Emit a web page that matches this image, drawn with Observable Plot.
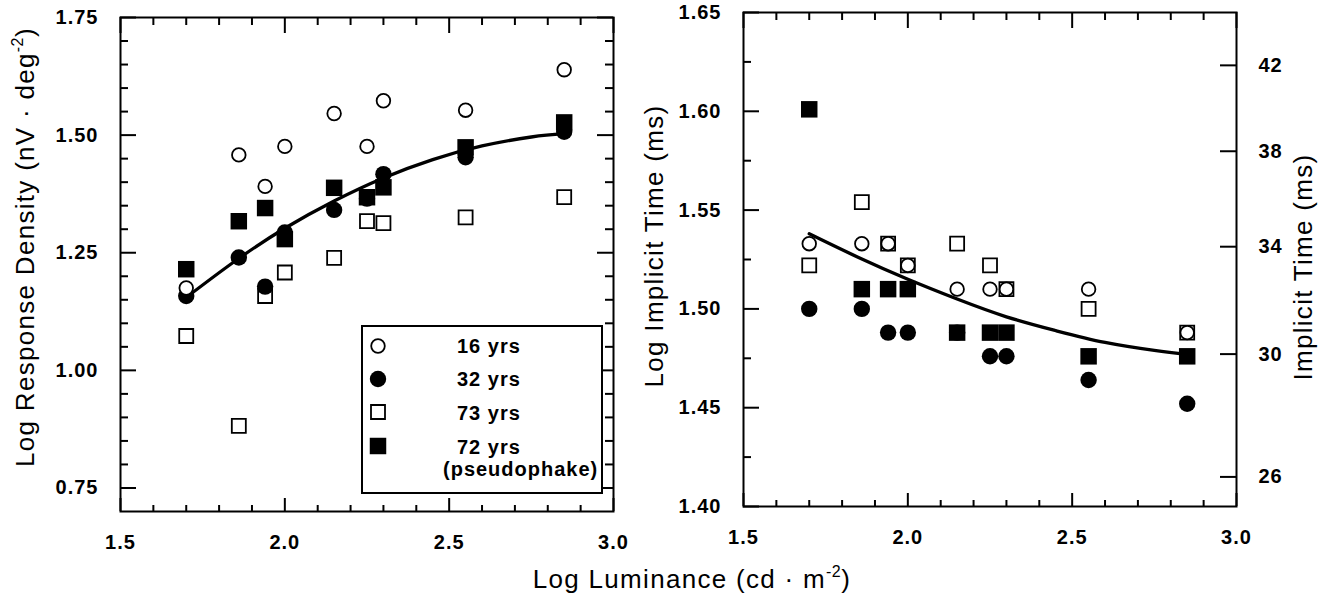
<!DOCTYPE html>
<html>
<head>
<meta charset="utf-8">
<script src="https://cdn.jsdelivr.net/npm/d3@7"></script>
<script src="https://cdn.jsdelivr.net/npm/@observablehq/plot@0.6"></script>
<style>
  html, body { margin: 0; padding: 0; background: #fff; }
  #figure { position: relative; width: 1338px; height: 604px; overflow: hidden; background: #fff;
            font-family: "Liberation Sans", Arial, Helvetica, sans-serif; color: #000; }
  #figure > svg { position: absolute; top: 0; }
  #figure svg text { letter-spacing: 1px; }
  .title { position: absolute; font-size: 26px; line-height: 30px; letter-spacing: 1.3px; white-space: nowrap; }
  .title.horiz { transform: translateX(-50%); }
  .title.rot { transform: translate(-50%, -50%) rotate(-90deg); }
  .title sup { font-size: 16px; vertical-align: 0; position: relative; top: -11px; line-height: 0; letter-spacing: 0.5px; }
</style>
</head>
<body>
<div id="figure"></div>
<script>
// Luminance levels tested (log cd·m⁻²), shared by both panels
const luminance = [1.70, 1.86, 1.94, 2.00, 2.15, 2.25, 2.30, 2.55, 2.85];
const groups = ["16 yrs", "32 yrs", "73 yrs", "72 yrs"];

// Log response density (nV·deg⁻²)
const density16 = [1.175, 1.458, 1.391, 1.476, 1.546, 1.476, 1.573, 1.553, 1.639];
const density32 = [1.158, 1.240, 1.178, 1.293, 1.341, 1.365, 1.417, 1.453, 1.507];
const density73 = [1.073, 0.882, 1.158, 1.208, 1.239, 1.317, 1.313, 1.325, 1.368];
const density72 = [1.215, 1.317, 1.345, 1.279, 1.388, 1.368, 1.389, 1.474, 1.527];

// Log implicit time (ms)
const implicit16 = [1.533, 1.533, 1.533, 1.522, 1.510, 1.510, 1.510, 1.510, 1.488];
const implicit32 = [1.500, 1.500, 1.488, 1.488, 1.488, 1.476, 1.476, 1.464, 1.452];
const implicit73 = [1.522, 1.554, 1.533, 1.522, 1.533, 1.522, 1.510, 1.500, 1.488];
const implicit72 = [1.601, 1.510, 1.510, 1.510, 1.488, 1.488, 1.488, 1.476, 1.476];

// Trend curves through the pooled data
const fitLuminance = [1.70, 1.85, 2.00, 2.15, 2.30, 2.45, 2.60, 2.75, 2.85];
const densityFit  = [1.155, 1.233, 1.302, 1.360, 1.409, 1.448, 1.477, 1.496, 1.503];
const implicitFit = [1.538, 1.526, 1.515, 1.505, 1.496, 1.489, 1.483, 1.479, 1.477];

// Axis ticks
const luminanceMajor = [1.5, 2.0, 2.5, 3.0];
const luminanceMinor = [1.6, 1.7, 1.8, 1.9, 2.1, 2.2, 2.3, 2.4, 2.6, 2.7, 2.8, 2.9];
const densityMajor = [0.75, 1.00, 1.25, 1.50, 1.75];
const densityMinor = [0.80, 0.85, 0.90, 0.95, 1.05, 1.10, 1.15, 1.20, 1.30, 1.35, 1.40, 1.45, 1.55, 1.60, 1.65, 1.70];
const implicitMajor = [1.40, 1.45, 1.50, 1.55, 1.60, 1.65];
const implicitMinor = [1.425, 1.475, 1.525, 1.575, 1.625];
const msTicks = [26, 30, 34, 38, 42];

// Marker look for each group (index matches `groups`)
const groupStyle = [
  {symbol: "circle", filled: false, r: 6.8},
  {symbol: "circle", filled: true,  r: 8.2},
  {symbol: "square", filled: false, r: 7.9},
  {symbol: "square", filled: true,  r: 9.3}
];
// open squares first, open circles last
const drawOrder = [2, 3, 1, 0];

const H = 604;
const FONT = "Liberation Sans, Arial, Helvetica, sans-serif";

function dots(values, g) {
  const s = groupStyle[g];
  const rows = luminance.map((x, i) => ({lum: x, val: values[i]}));
  return Plot.dot(rows, {
    x: "lum", y: "val", symbol: s.symbol, r: s.r,
    fill: s.filled ? "black" : "white",
    stroke: "black", strokeWidth: s.filled ? 0 : 1.8
  });
}

function panel({series, fit, yDomain, yMajor, yMinor, width, marginLeft, marginRight, marginTop, marginBottom, rightTicks, extra = []}) {
  const fw = width - marginLeft - marginRight;
  const fh = H - marginTop - marginBottom;
  const fitRows = fitLuminance.map((x, i) => ({lum: x, val: fit[i]}));
  const marks = [
    // inward ticks on all four sides
    Plot.tickX(luminanceMinor, {x: d => d, insetTop: fh - 6, strokeWidth: 2}),
    Plot.tickX(luminanceMajor, {x: d => d, insetTop: fh - 13, strokeWidth: 2}),
    Plot.tickX(luminanceMinor, {x: d => d, insetBottom: fh - 8, strokeWidth: 2}),
    Plot.tickX(luminanceMajor, {x: d => d, insetBottom: fh - 16, strokeWidth: 2}),
    Plot.tickY(yMinor, {y: d => d, insetRight: fw - 8, strokeWidth: 2}),
    Plot.tickY(yMajor, {y: d => d, insetRight: fw - 16, strokeWidth: 2})
  ];
  if (rightTicks) {
    marks.push(
      Plot.tickY(yMinor, {y: d => d, insetLeft: fw - 8, strokeWidth: 2}),
      Plot.tickY(yMajor, {y: d => d, insetLeft: fw - 16, strokeWidth: 2})
    );
  }
  marks.push(
    Plot.axisX(luminanceMajor, {anchor: "bottom", tickSize: 0, tickPadding: 23, tickFormat: d3.format(".1f"),
      fontSize: 20, fontWeight: "bold", label: null}),
    Plot.axisY(yMajor, {anchor: "left", tickSize: 0, tickPadding: 22, tickFormat: d3.format(".2f"),
      fontSize: 20, fontWeight: "bold", label: null}),
    ...extra,
    Plot.line(fitRows, {x: "lum", y: "val", curve: "natural", stroke: "black", strokeWidth: 3.3}),
    ...drawOrder.map(g => dots(series[g], g)),
    Plot.frame({stroke: "black", strokeWidth: 2})
  );
  return Plot.plot({
    width, height: H, marginLeft, marginRight, marginTop, marginBottom,
    x: {domain: [1.5, 3.0], label: null},
    y: {domain: yDomain, label: null},
    style: {background: "transparent", fontFamily: FONT, overflow: "visible", color: "black"},
    marks
  });
}

const fig = document.getElementById("figure");

// Left: response density
const left = panel({
  series: [density16, density32, density73, density72],
  fit: densityFit,
  yDomain: [0.70, 1.75], yMajor: densityMajor, yMinor: densityMinor,
  width: 640, marginLeft: 120, marginRight: 27, marginTop: 17, marginBottom: 93,
  rightTicks: true
});
left.style.left = "0px";
fig.appendChild(left);

// Right: implicit time, with a secondary scale in ms on the right edge
const rightFw = 698 - 103 - 102;
const right = panel({
  series: [implicit16, implicit32, implicit73, implicit72],
  fit: implicitFit,
  yDomain: [1.40, 1.65], yMajor: implicitMajor, yMinor: implicitMinor,
  width: 698, marginLeft: 103, marginRight: 102, marginTop: 12, marginBottom: 98,
  rightTicks: false,
  extra: [
    Plot.tickY(msTicks, {y: d => Math.log10(d), insetLeft: rightFw - 16, strokeWidth: 2}),
    Plot.axisY(msTicks.map(d => Math.log10(d)), {anchor: "right", tickSize: 0, tickPadding: 22,
      tickFormat: d => String(Math.round(Math.pow(10, d))), fontSize: 20, fontWeight: "bold", label: null})
  ]
});
right.style.left = "640px";
fig.appendChild(right);

// Axis titles
function title(html, cls, x, y) {
  const el = document.createElement("div");
  el.className = "title " + cls;
  el.innerHTML = html;
  el.style.left = x + "px";
  el.style.top = y + "px";
  fig.appendChild(el);
}
title("Log Luminance (cd · m<sup>-2</sup>)", "horiz", 692, 564);
title("Log Response Density (nV · deg<sup>-2</sup>)", "rot", 25, 247);
title("Log Implicit Time (ms)", "rot", 654, 246);
title("Implicit Time (ms)", "rot", 1303, 267);

// Legend box inside the left panel
const legend = d3.select(fig).append("svg")
  .attr("width", 1338).attr("height", H)
  .style("left", "0px").style("pointer-events", "none");
legend.append("rect")
  .attr("x", 362).attr("y", 326).attr("width", 240).attr("height", 167)
  .attr("fill", "white").attr("stroke", "black").attr("stroke-width", 2);
const rowY = [346, 379, 412, 446];
const baseY = [353, 386, 420, 454];
groups.forEach((name, g) => {
  const s = groupStyle[g];
  const sym = s.symbol === "circle" ? d3.symbolCircle : d3.symbolSquare;
  legend.append("path")
    .attr("d", d3.symbol(sym, Math.PI * s.r * s.r)())
    .attr("transform", `translate(378,${rowY[g]})`)
    .attr("fill", s.filled ? "black" : "white")
    .attr("stroke", "black").attr("stroke-width", s.filled ? 0 : 1.8);
  legend.append("text")
    .attr("x", 457).attr("y", baseY[g])
    .attr("font-family", FONT).attr("font-size", 20).attr("font-weight", "bold")
    .text(name);
});
legend.append("text")
  .attr("x", 443).attr("y", 476)
  .attr("font-family", FONT).attr("font-size", 20).attr("font-weight", "bold")
  .text("(pseudophake)");
</script>
</body>
</html>
